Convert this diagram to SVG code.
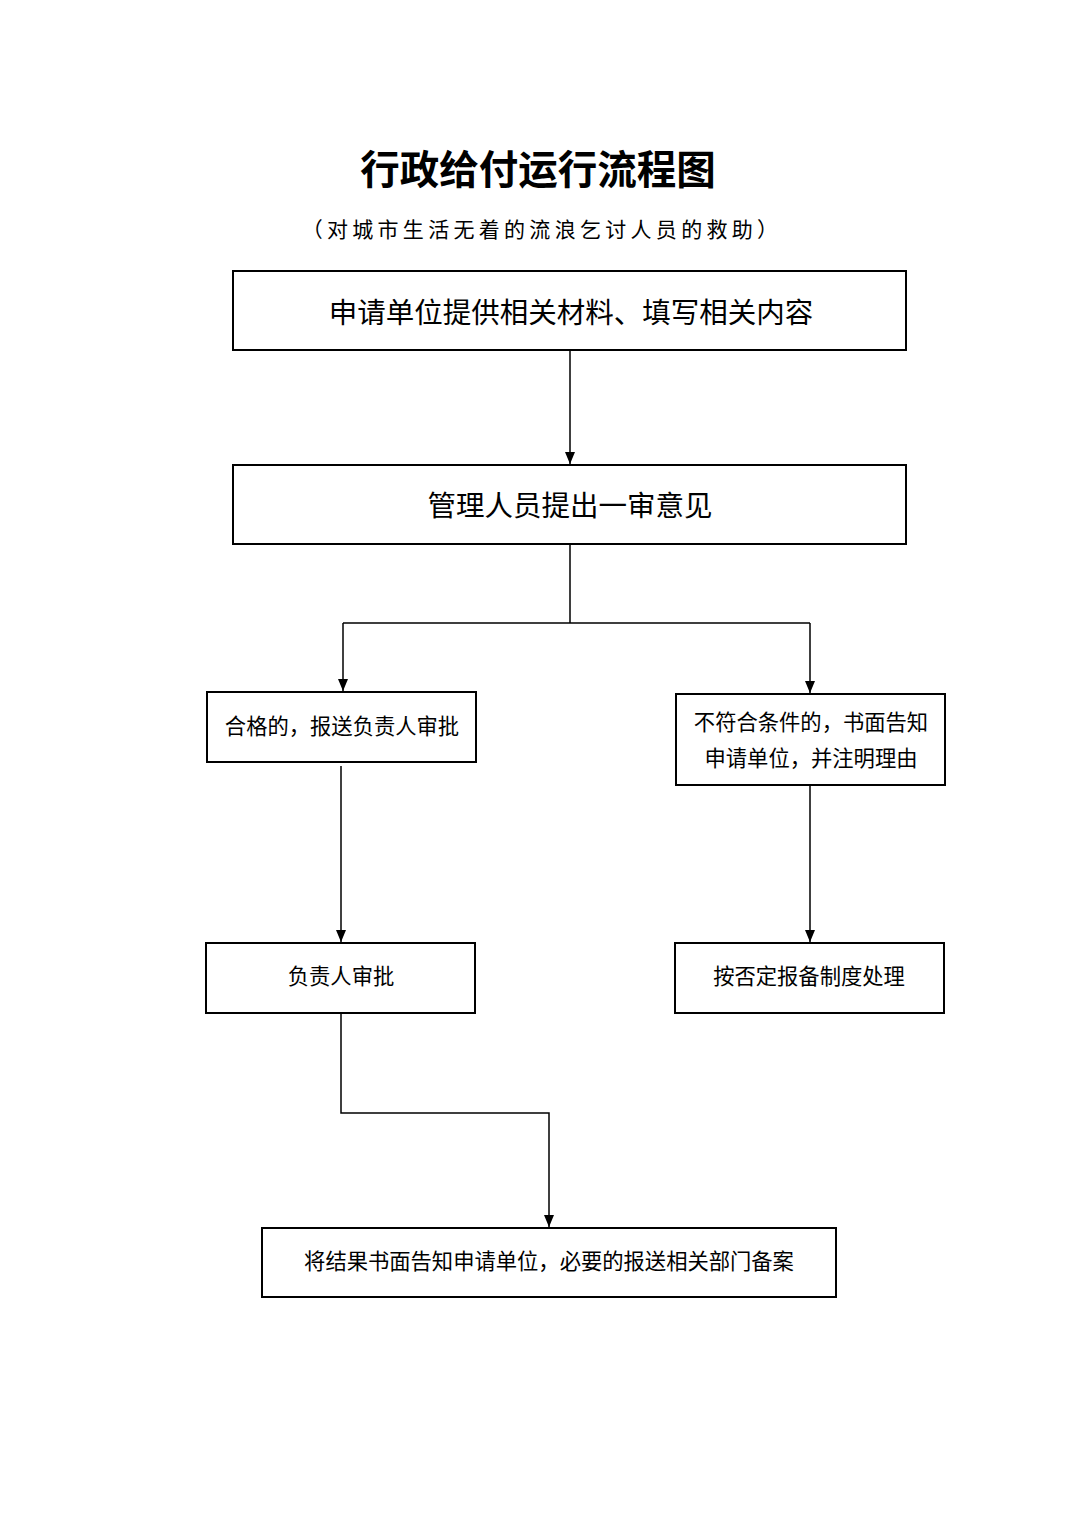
<svg xmlns="http://www.w3.org/2000/svg" width="1074" height="1520" viewBox="0 0 1074 1520">
<style>
.box{fill:#fff;stroke:#000;stroke-width:2}
.t{font-family:"Liberation Serif","Noto Sans CJK SC",serif;fill:#000;text-anchor:middle;dominant-baseline:central}
.big{font-size:28.5px}
.sm{font-size:21.3px}
.conn{fill:none;stroke:#000;stroke-width:1.5}
</style>
<defs>
<marker id="ah" markerWidth="12" markerHeight="12" refX="12" refY="5" orient="auto" markerUnits="userSpaceOnUse" viewBox="0 0 12 10">
<path d="M0,0 L12,5 L0,10 Z" fill="#000"/>
</marker>
</defs>
<rect width="1074" height="1520" fill="#fff"/>
<text class="t" x="538" y="171" style="font-size:39.5px;font-weight:bold">行政给付运行流程图</text>
<text class="t" x="542" y="230" style="font-size:21px;letter-spacing:4.3px">（对城市生活无着的流浪乞讨人员的救助）</text>
<g id="n1"><rect class="box" x="233" y="271" width="673" height="79"/><text class="t big" x="571" y="313">申请单位提供相关材料、填写相关内容</text></g>
<g id="n2"><rect class="box" x="233" y="465" width="673" height="79"/><text class="t big" x="570" y="506">管理人员提出一审意见</text></g>
<g id="n3"><rect class="box" x="207" y="692" width="269" height="70"/><text class="t sm" x="342" y="727">合格的，报送负责人审批</text></g>
<g id="n4"><rect class="box" x="676" y="694" width="269" height="91"/><text class="t sm" x="811" y="723">不符合条件的，书面告知</text><text class="t sm" x="811" y="759">申请单位，并注明理由</text></g>
<g id="n5"><rect class="box" x="206" y="943" width="269" height="70"/><text class="t sm" x="341" y="977">负责人审批</text></g>
<g id="n6"><rect class="box" x="675" y="943" width="269" height="70"/><text class="t sm" x="809" y="977">按否定报备制度处理</text></g>
<g id="n7"><rect class="box" x="262" y="1228" width="574" height="69"/><text class="t sm" x="549" y="1262">将结果书面告知申请单位，必要的报送相关部门备案</text></g>
<g id="connectors">
<path class="conn" d="M570,350 V464" marker-end="url(#ah)"/>
<path class="conn" d="M570,544 V623 M343,623 H810"/>
<path class="conn" d="M343,623 V691" marker-end="url(#ah)"/>
<path class="conn" d="M810,623 V693" marker-end="url(#ah)"/>
<path class="conn" d="M341,766 V942" marker-end="url(#ah)"/>
<path class="conn" d="M810,785 V942" marker-end="url(#ah)"/>
<path class="conn" d="M341,1013 V1113 H549 V1227" marker-end="url(#ah)"/>
</g>
</svg>
